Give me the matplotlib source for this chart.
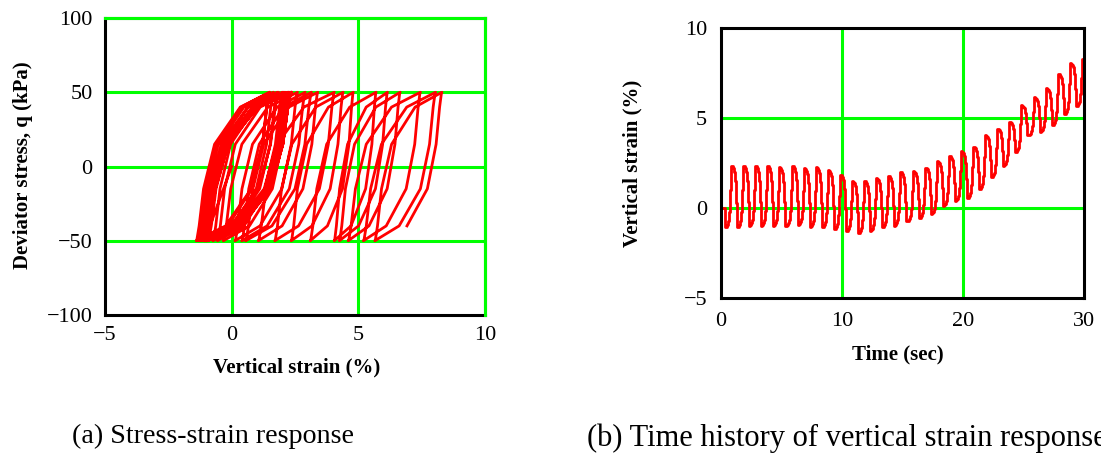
import numpy as np
import matplotlib
matplotlib.use("Agg")
import matplotlib.pyplot as plt

# Cyclic triaxial record: one load cycle per second
peak_strain = [2.35, 2.35, 2.35, 2.35, 2.26, 2.35, 2.2, 2.26, 2.1, 1.85,
               1.5, 1.5, 1.65, 1.8, 2.0, 2.05, 2.25, 2.6, 2.9, 3.15,
               3.4, 4.05, 4.4, 4.8, 5.7, 6.15, 6.65, 7.45, 8.05, 8.3]
trough_strain = [-1.07, -1.07, -0.98, -0.98, -0.98, -0.98, -0.93, -1.04, -1.07, -1.17,
                 -1.3, -1.4, -1.26, -1.07, -0.98, -0.74, -0.56, -0.33, 0.13, 0.4,
                 0.55, 1.05, 1.7, 2.35, 3.1, 4.05, 4.25, 4.6, 5.2, 5.65, 6.0]

# deviator stress at the twelve samples of each cycle (kPa)
stress_cycle = [-50, -49, -40, -15, 15, 40, 50, 49, 40, 15, -15, -40]
# share of the strain change reached at each sample of a branch
loading_frac = [0.0, 0.01, 0.04, 0.1, 0.25, 0.6, 1.0]
unloading_frac = [0.0, 0.01, 0.04, 0.1, 0.25, 0.6]

first_trough_s = 0.33
dt = 1 / 12

time_s = [0.0]
strain = [0.0]
stress = [0.0]
for k in range(len(peak_strain)):
    lo, hi, nxt = trough_strain[k], peak_strain[k], trough_strain[k + 1]
    branch = [lo + f * (hi - lo) for f in loading_frac[:-1]]
    branch += [hi - f * (hi - nxt) for f in unloading_frac]
    for j, e in enumerate(branch):
        time_s.append(first_trough_s + k + j * dt)
        strain.append(e)
        stress.append(stress_cycle[j])

time_s = np.array(time_s)
strain = np.array(strain)
stress = np.array(stress)

plt.rcParams['font.family'] = ['Liberation Serif', 'DejaVu Serif']

RED = '#ff0000'
GREEN = '#00ff00'

fig = plt.figure(figsize=(11.01, 4.55), dpi=100)

ax1 = fig.add_axes([105 / 1101, 1 - 315 / 455, 380 / 1101, 297 / 455])
ax2 = fig.add_axes([721 / 1101, 1 - 298 / 455, 363 / 1101, 270 / 455])

# (a) stress-strain loops
for x in [0, 5]:
    ax1.axvline(x, color=GREEN, lw=2.2, zorder=1)
for y in [-50, 0, 50]:
    ax1.axhline(y, color=GREEN, lw=2.2, zorder=1)
# edge grid lines sit over the frame
ax1.axvline(10, color=GREEN, lw=2.2, zorder=3, clip_on=False)
ax1.axhline(100, color=GREEN, lw=2.2, zorder=3, clip_on=False)
ax1.plot(strain, stress, color=RED, lw=2, zorder=2)
ax1.set_xlim(-5, 10)
ax1.set_ylim(-100, 100)
ax1.set_xticks([-5, 0, 5, 10])
ax1.set_yticks([-100, -50, 0, 50, 100])
ax1.set_xlabel('Vertical strain (%)', fontsize=15, fontweight='bold', va='center')
ax1.set_ylabel('Deviator stress, q (kPa)', fontsize=15, fontweight='bold', va='center')
ax1.xaxis.set_label_coords(0.505, -0.178)
ax1.yaxis.set_label_coords(-0.216, 0.505)
ax1.tick_params(axis='x', length=0, pad=8, labelsize=16)
ax1.tick_params(axis='y', length=0, pad=9, labelsize=16)

# (b) strain time history, held between samples
for x in [10, 20]:
    ax2.axvline(x, color=GREEN, lw=2.2, zorder=1)
for y in [0, 5]:
    ax2.axhline(y, color=GREEN, lw=2.2, zorder=1)
ax2.plot(time_s, strain, color=RED, lw=2, drawstyle='steps-post', zorder=2)
ax2.set_xlim(0, 30)
ax2.set_ylim(-5, 10)
ax2.set_xticks([0, 10, 20, 30])
ax2.set_yticks([-5, 0, 5, 10])
ax2.set_xlabel('Time (sec)', fontsize=15, fontweight='bold', va='center')
ax2.set_ylabel('Vertical strain (%)', fontsize=15, fontweight='bold', va='center')
ax2.xaxis.set_label_coords(0.488, -0.211)
ax2.yaxis.set_label_coords(-0.245, 0.5)
ax2.tick_params(axis='x', length=0, pad=10, labelsize=16)
ax2.tick_params(axis='y', length=0, pad=10, labelsize=16)

for ax in (ax1, ax2):
    for sp in ax.spines.values():
        sp.set_linewidth(2.2)
        sp.set_color('black')
    ax.set_facecolor('white')

fig.text(72 / 1101, 1 - 436 / 455, '(a) Stress-strain response', fontsize=20.2, va='center', ha='left')
fig.text(587 / 1101, 1 - 438 / 455, '(b) Time history of vertical strain response', fontsize=22,
         va='center', ha='left')

fig.savefig('out.png', dpi=100, facecolor='white')
